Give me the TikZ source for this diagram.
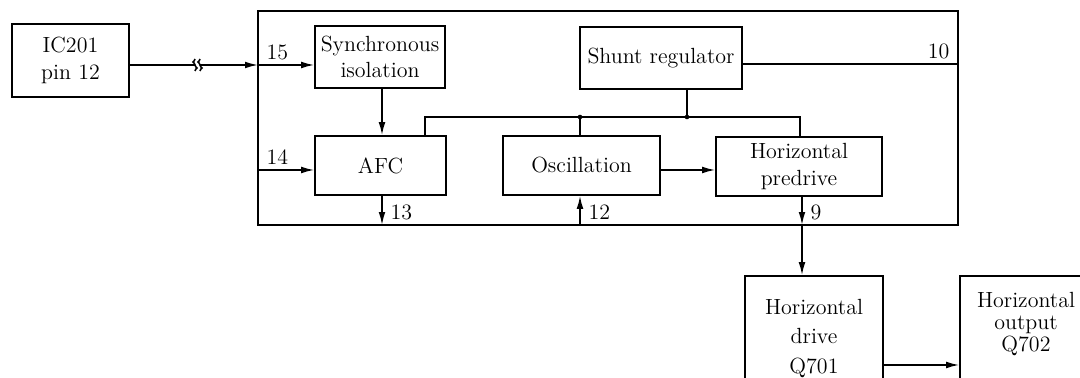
\documentclass[tikz,border=0pt]{standalone}
\usepackage{tikz}
\usetikzlibrary{arrows.meta}

\tikzset{
  blk/.style={draw, line width=0.9pt, align=center, inner sep=1pt,
    font=\fontsize{12.5}{15}\selectfont},
  pinlbl/.style={font=\fontsize{12.5}{14}\selectfont, inner sep=1pt,
    anchor=south west, xshift=1.3mm, yshift=0.6mm},
  wire/.style={line width=0.9pt},
  arr/.style={wire, -{Latex[length=2.6mm,width=1.35mm]}},
  jdot/.style={fill, circle, inner sep=0pt, minimum size=2.6pt}
}

\begin{document}
\begin{tikzpicture}[x=0.02cm, y=-0.02cm, >=latex]

% Frame of the picture
\useasboundingbox (0,0) rectangle (1080,378);
\clip (0,0) rectangle (1080,378);

% Outer box (the IC)
\draw[wire] (258,11) rectangle (958,225);

% Blocks
\node[blk, minimum width=2.34cm, minimum height=1.46cm] (ic) at (70.5,60.5) {IC201\\pin 12};
\node[blk, minimum width=2.6cm, minimum height=1.24cm] (sync) at (380,57) {Synchronous\\isolation};
\node[blk, minimum width=2.62cm, minimum height=1.18cm] (afc) at (380.5,165.5) {AFC};
\node[blk, minimum width=3.24cm, minimum height=1.24cm] (shunt) at (661,58) {Shunt regulator};
\node[blk, minimum width=3.14cm, minimum height=1.18cm] (osc) at (581.5,165.5) {Oscillation};
\node[blk, minimum width=3.32cm, minimum height=1.18cm] (pre) at (799,166.5) {Horizontal\\predrive};
\node[blk, minimum width=2.76cm, minimum height=2.5cm] (drv) at (814,338.5) {Horizontal\\[2pt]drive\\[2pt]Q701};
\node[blk, minimum width=2.64cm, minimum height=2.5cm] (out) at (1026,338.5)
  {\raisebox{5pt}[0pt][0pt]{\begin{tabular}{@{}c@{}}Horizontal\\[-2.5pt]output\\[-2.5pt]Q702\end{tabular}}};

% Pins on the outer box
\coordinate (p15) at (258,65);
\coordinate (p14) at (258,170);
\coordinate (p13) at (382,225);
\coordinate (p12) at (580,225);
\coordinate (p10) at (958,64);
\coordinate (p9) at (802,225);

% Supply rail
\coordinate (rail) at (425,117);
\coordinate (tapS) at (687,117);
\coordinate (tapO) at (580,117);
\coordinate (tapP) at (800,117);

% Input from IC201, with break
\coordinate (brkA) at (195,65);
\coordinate (brkB) at (200,65);
\draw[wire] (ic.east |- p15) -- (brkA);
\draw[wire] (195,59) sin (193,62) cos (195,65) sin (197,68) cos (195,71);
\draw[wire] (200,59) sin (198,62) cos (200,65) sin (202,68) cos (200,71);
\draw[arr] (brkB) -- (p15);
\draw[arr] (p15) -- (sync.west |- p15);
\node[pinlbl] (l15) at (p15) {15};

\draw[arr] (p14) -- (afc.west |- p14);
\node[pinlbl] (l14) at (p14) {14};

\draw[arr] (sync.south -| 382,0) -- (afc.north -| 382,0);

% Rail from shunt regulator
\draw[wire] (afc.north -| rail) -- (rail) -- (tapP) -- (pre.north -| tapP);
\draw[wire] (shunt.south -| tapS) -- (tapS);
\draw[wire] (tapO) -- (osc.north -| tapO);
\node[jdot] (dS) at (tapS) {};
\node[jdot] (dO) at (tapO) {};

\draw[wire] (shunt.east |- p10) -- (p10);
\node[pinlbl, anchor=south east, xshift=-2.6mm] (l10) at (p10) {10};

\draw[arr] (osc.east |- 0,170) -- (pre.west |- 0,170);

% Outputs at the bottom
\draw[arr] (afc.south -| p13) -- (p13);
\node[pinlbl] (l13) at (p13) {13};
\draw[arr] (p12) -- (osc.south -| p12);
\node[pinlbl] (l12) at (p12) {12};
\draw[arr] (pre.south -| p9) -- (p9);
\draw[arr] (p9) -- (drv.north -| p9);
\node[pinlbl] (l9) at (p9) {9};

\draw[arr] (drv.east |- 0,365) -- (out.west |- 0,365);

\end{tikzpicture}
\end{document}
